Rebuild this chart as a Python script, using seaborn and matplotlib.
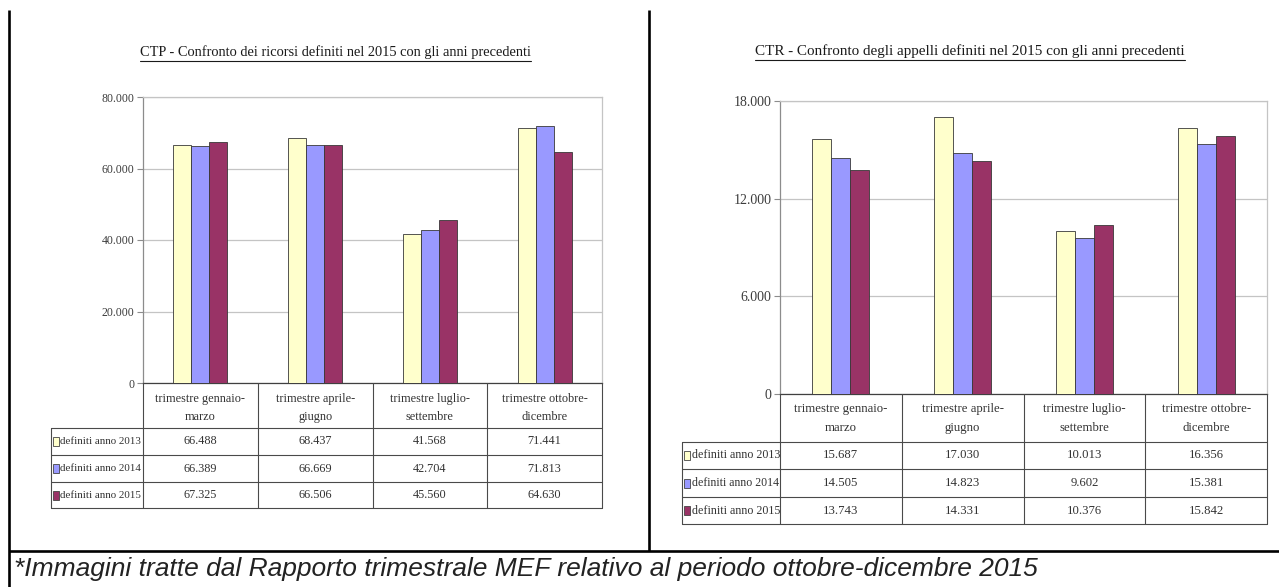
import numpy as np
import pandas as pd
import matplotlib
matplotlib.use("Agg")
import matplotlib.pyplot as plt
from matplotlib.lines import Line2D
from matplotlib.patches import Rectangle
import seaborn as sns

# ---- data -------------------------------------------------------------
periods = ["trimestre gennaio-\nmarzo", "trimestre aprile-\ngiugno",
           "trimestre luglio-\nsettembre", "trimestre ottobre-\ndicembre"]
series = ["definiti anno 2013", "definiti anno 2014", "definiti anno 2015"]

ctp_2013 = [66488, 68437, 41568, 71441]
ctp_2014 = [66389, 66669, 42704, 71813]
ctp_2015 = [67325, 66506, 45560, 64630]

ctr_2013 = [15687, 17030, 10013, 16356]
ctr_2014 = [14505, 14823, 9602, 15381]
ctr_2015 = [13743, 14331, 10376, 15842]

ctp_ticks = [0, 20000, 40000, 60000, 80000]
ctr_ticks = [0, 6000, 12000, 18000]

ctp_title = "CTP - Confronto dei ricorsi definiti nel 2015 con gli anni precedenti"
ctr_title = "CTR - Confronto degli appelli definiti nel 2015 con gli anni precedenti"
caption = "*Immagini tratte dal Rapporto trimestrale MEF relativo al periodo ottobre-dicembre 2015"

colors = ["#FFFFCC", "#9999FF", "#993366"]


def it_num(v):
    """Italian thousands separator."""
    return f"{v:,}".replace(",", ".")


# ---- figure -----------------------------------------------------------
W, H = 1279, 587
sns.set_theme(style="white")
plt.rcParams["font.family"] = ["Liberation Serif", "DejaVu Serif"]

fig = plt.figure(figsize=(W / 100, H / 100), dpi=100)
fig.patch.set_facecolor("white")


def box(x0, y0, x1, y1):
    return [x0 / W, 1 - y1 / H, (x1 - x0) / W, (y1 - y0) / H]


# pixel-space overlay for frame, tables, titles
ov = fig.add_axes([0, 0, 1, 1], zorder=5)
ov.set_xlim(0, W)
ov.set_ylim(H, 0)
ov.axis("off")
ov.patch.set_alpha(0)

LINE = "#4a4a4a"
TXT = "#333333"

panels = [
    dict(values=[ctp_2013, ctp_2014, ctp_2015], ticks=ctp_ticks, title=ctp_title,
         ax=(143, 97, 602, 383), table_left=51, rows=(428, 455, 482, 508),
         header_lines=(399, 417), title_xc=335, title_y=52, title_w=390,
         tick_fs=8.5, cell_fs=8.8),
    dict(values=[ctr_2013, ctr_2014, ctr_2015], ticks=ctr_ticks, title=ctr_title,
         ax=(780, 101, 1267, 394), table_left=682, rows=(442, 469, 497, 524),
         header_lines=(409, 428), title_xc=970, title_y=51, title_w=428,
         tick_fs=10.0, cell_fs=9.2),
]

titles = []
row_labels = []
for p in panels:
    x0, y0, x1, y1 = p["ax"]
    ax = fig.add_axes(box(x0, y0, x1, y1))
    df = pd.DataFrame({
        "periodo": np.tile(periods, len(series)),
        "serie": np.repeat(series, len(periods)),
        "valore": np.concatenate(p["values"]),
    })
    sns.barplot(data=df, x="periodo", y="valore", hue="serie",
                order=periods, hue_order=series, palette=colors,
                saturation=1, width=0.47, edgecolor="#383838", linewidth=0.6,
                errorbar=None, legend=False, ax=ax, zorder=3)
    ax.set_xlim(-0.5, len(periods) - 0.5)
    ax.set_ylim(0, p["ticks"][-1])
    ax.set_yticks(p["ticks"])
    ax.set_yticklabels([it_num(t) for t in p["ticks"]])
    ax.set_xticks([])
    ax.set_xlabel("")
    ax.set_ylabel("")
    ax.yaxis.grid(True, color="#c4c4c4", lw=0.9)
    ax.set_axisbelow(True)
    ax.tick_params(axis="y", left=True, length=4, width=0.8, color="#8c8c8c",
                   pad=2, labelsize=p["tick_fs"], labelcolor="#3c3c3c")
    for s, c in (("top", "#c4c4c4"), ("right", "#c4c4c4"),
                 ("left", "#8c8c8c"), ("bottom", "#404040")):
        ax.spines[s].set_color(c)
        ax.spines[s].set_linewidth(0.9)

    # ---- data table under the bars ----
    tl = p["table_left"]
    r_head, r1, r2, r3 = p["rows"]
    colw = (x1 - x0) / len(periods)
    edges = [x0 + k * colw for k in range(len(periods) + 1)]
    for xe in edges:
        ov.add_line(Line2D([xe, xe], [y1, r3], color=LINE, lw=0.8))
    ov.add_line(Line2D([tl, tl], [r_head, r3], color=LINE, lw=0.8))
    for yy in (r_head, r1, r2, r3):
        ov.add_line(Line2D([tl, x1], [yy, yy], color=LINE, lw=0.8))

    for k, lab in enumerate(periods):
        xc = (edges[k] + edges[k + 1]) / 2
        for line_txt, yy in zip(lab.split("\n"), p["header_lines"]):
            ov.text(xc, yy, line_txt, ha="center", va="center",
                    fontsize=p["cell_fs"], color=TXT)

    row_tops = [r_head, r1, r2]
    row_bots = [r1, r2, r3]
    for i, name in enumerate(series):
        yc = (row_tops[i] + row_bots[i]) / 2
        ov.add_patch(Rectangle((tl + 2, yc - 4.5), 6, 9, facecolor=colors[i],
                               edgecolor="#444444", lw=0.6))
        lt = ov.text(tl + 9.5, yc, name, ha="left", va="center",
                     fontsize=p["cell_fs"], color=TXT)
        row_labels.append((lt, x0 - tl - 10.5))
        for k, v in enumerate(p["values"][i]):
            xc = (edges[k] + edges[k + 1]) / 2
            ov.text(xc, yc, it_num(v), ha="center", va="center",
                    fontsize=p["cell_fs"], color=TXT)

    t = ov.text(p["title_xc"], p["title_y"], p["title"], ha="center",
                va="center", fontsize=12, color="#1a1a1a")
    titles.append((t, p["title_w"]))

# ---- frame around the two pictures and caption ----
FRAME = dict(color="black", lw=1.9, solid_capstyle="butt")
ov.add_line(Line2D([9, 9], [10, H], **FRAME))
ov.add_line(Line2D([649, 649], [10, 551], **FRAME))
ov.add_line(Line2D([9, W], [551, 551], **FRAME))

cap = ov.text(14, 569, caption, ha="left", va="center", fontsize=16,
              fontstyle="italic", family=["Liberation Sans", "DejaVu Sans"],
              color="#222222")

# fit titles, row labels and caption to their widths, then underline titles
fig.canvas.draw()
renderer = fig.canvas.get_renderer()
for t, target in titles:
    w = t.get_window_extent(renderer).width
    t.set_fontsize(t.get_fontsize() * target / w)
for t, target in row_labels:
    w = t.get_window_extent(renderer).width
    if w > target:
        t.set_fontsize(t.get_fontsize() * target / w)
w = cap.get_window_extent(renderer).width
cap.set_fontsize(cap.get_fontsize() * 1026 / w)
fig.canvas.draw()
for t, target in titles:
    bb = t.get_window_extent(renderer)
    yline = t.get_position()[1] + 9
    ov.add_line(Line2D([bb.x0, bb.x1], [yline, yline], color="#1a1a1a", lw=0.8))

fig.savefig("out.png", dpi=100, facecolor="white")
